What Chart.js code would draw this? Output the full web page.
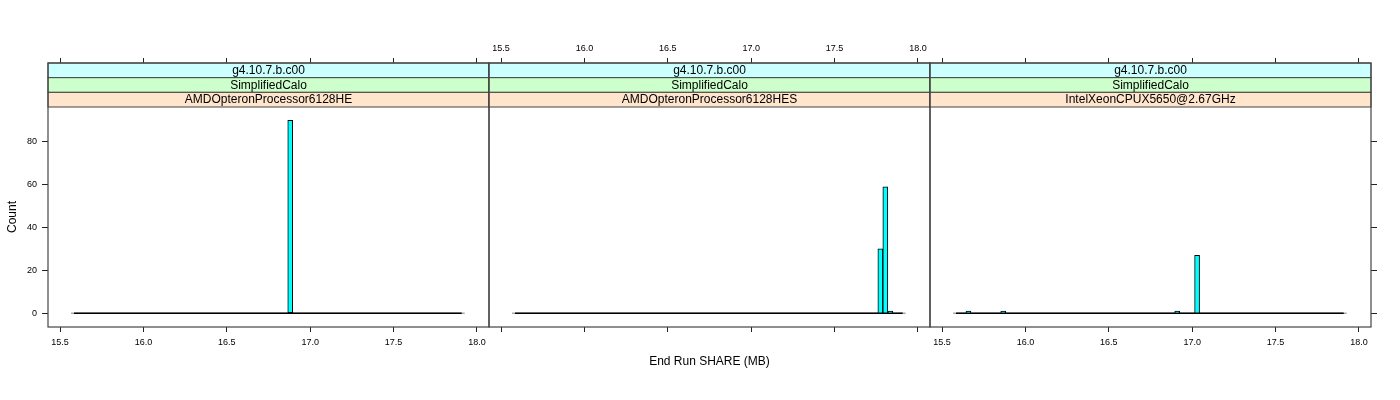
<!DOCTYPE html>
<html><head><meta charset="utf-8">
<script src="https://cdn.jsdelivr.net/npm/chart.js@4.4.1/dist/chart.umd.min.js"></script>
<style>
html,body{margin:0;padding:0;background:#fff;}
#wrap{position:relative;width:1400px;height:400px;}
#wrap canvas{position:absolute;left:0;top:0;}
</style></head><body>
<div id="wrap">
<canvas id="c0" width="1400" height="400"></canvas>
<canvas id="c1" width="1400" height="400"></canvas>
<canvas id="c2" width="1400" height="400"></canvas>
</div>
<script>
// ---------------- data ----------------
const stripVersion = ['g4.10.7.b.c00', 'g4.10.7.b.c00', 'g4.10.7.b.c00'];
const stripTest = ['SimplifiedCalo', 'SimplifiedCalo', 'SimplifiedCalo'];
const stripCpu = ['AMDOpteronProcessor6128HE', 'AMDOpteronProcessor6128HES', 'IntelXeonCPUX5650@2.67GHz'];
const breakStart = 15.584;
const binWidth = 0.0298;
const binTotal = 78;
const panel1Bins = [43];
const panel1Counts = [90];
const panel2Bins = [73, 74, 75];
const panel2Counts = [30, 59, 1];
const panel3Bins = [2, 9, 44, 48];
const panel3Counts = [1, 1, 1, 27];
const xTickValues = [15.5, 16.0, 16.5, 17.0, 17.5, 18.0];
const xTickLabels = ['15.5', '16.0', '16.5', '17.0', '17.5', '18.0'];
const yTickValues = [0, 20, 40, 60, 80];
const yTickLabels = ['0', '20', '40', '60', '80'];
const xTitle = 'End Run SHARE (MB)';
const yTitle = 'Count';

// ---------------- layout ----------------
const FONT = "'Liberation Sans', Arial, Helvetica, sans-serif";
const W = 1400, H = 400;
const panelLeft = [48, 489, 930];
const panelWidth = 441;
const areaTop = 63, areaBottom = 327;
const stripH = 44 / 3;
const X_MIN = 15.428, X_MAX = 18.072;
const Y_MIN = -6.4, Y_MAX = 116.7;
const stripColors = ['#CCFFFF', '#CCFFCC', '#FFE5CC'];
const frameColor = '#444';

Chart.defaults.font.family = FONT;
Chart.defaults.font.size = 9;
Chart.defaults.color = '#000';

function xAxis(position, showLabels, height) {
  return {
    type: 'linear', position, min: X_MIN, max: X_MAX, offset: false,
    afterBuildTicks: s => { s.ticks = xTickValues.map(v => ({value: v})); },
    afterFit: s => { s.height = height; },
    grid: {display: true, drawOnChartArea: false, drawTicks: true, tickLength: 5, tickColor: '#222', tickWidth: 1, offset: false},
    border: {display: false},
    ticks: {display: showLabels, autoSkip: false, maxRotation: 0, minRotation: 0,
      padding: position === 'top' ? 4 : 5, color: '#000', font: {size: 9, family: FONT},
      callback: (v, idx) => xTickLabels[idx]}
  };
}
function yAxis(position, display, showLabels, width) {
  return {
    type: 'linear', position, display, min: Y_MIN, max: Y_MAX,
    afterBuildTicks: s => { s.ticks = yTickValues.map(v => ({value: v})); },
    afterFit: s => { s.width = display ? width : 0; },
    grid: {display: true, drawOnChartArea: false, drawTicks: true, tickLength: 6, tickColor: '#222', tickWidth: 1, offset: false},
    border: {display: false},
    ticks: {display: showLabels, autoSkip: false, padding: 5, color: '#000', font: {size: 9, family: FONT},
      callback: (v, idx) => yTickLabels[idx]}
  };
}

function decor(i) {
  return {
    id: 'decor' + i,
    afterDraw(chart) {
      const {ctx, chartArea: a} = chart;
      const texts = [stripVersion[i], stripTest[i], stripCpu[i]];
      ctx.save();
      for (let k = 0; k < 3; k++) {
        const y0 = a.top + k * stripH;
        ctx.fillStyle = stripColors[k];
        ctx.fillRect(a.left, y0, a.right - a.left, stripH);
        ctx.strokeStyle = frameColor; ctx.lineWidth = 1;
        ctx.strokeRect(a.left, y0, a.right - a.left, stripH);
        ctx.fillStyle = '#000';
        ctx.font = '12px ' + FONT;
        ctx.textAlign = 'center'; ctx.textBaseline = 'middle';
        ctx.fillText(texts[k], (a.left + a.right) / 2, y0 + stripH / 2 + 0.5);
      }
      ctx.strokeStyle = frameColor; ctx.lineWidth = 1.2;
      ctx.strokeRect(a.left, a.top, a.right - a.left, a.bottom - a.top);
      if (i === 0) {
        ctx.fillStyle = '#000';
        ctx.font = '12px ' + FONT;
        ctx.textAlign = 'center'; ctx.textBaseline = 'alphabetic';
        ctx.fillText(xTitle, (panelLeft[0] + panelLeft[2] + panelWidth) / 2, 365);
        ctx.save();
        ctx.translate(15.7, (areaTop + 3 * stripH + areaBottom) / 2);
        ctx.rotate(-Math.PI / 2);
        ctx.fillText(yTitle, 0, 0);
        ctx.restore();
      }
      ctx.restore();
    }
  };
}

function makeChart(i, bins, counts) {
  const countsFull = Array(binTotal).fill(0);
  bins.forEach((b, k) => { countsFull[b] = counts[k]; });
  const barData = countsFull.map((c, k) => ({x: breakStart + (k + 0.5) * binWidth, y: c}));
  const breakEnd = breakStart + binTotal * binWidth;
  const showLeft = i === 0, showRight = i === 2;
  const xTopH = 25, xBotH = 30, yLW = 40, yRW = 15;
  const padding = {
    top: areaTop - xTopH,
    bottom: H - areaBottom - xBotH,
    left: panelLeft[i] - (showLeft ? yLW : 0),
    right: W - (panelLeft[i] + panelWidth) - (showRight ? yRW : 0)
  };
  return new Chart(document.getElementById('c' + i), {
    type: 'bar',
    data: {
      datasets: [
        {type: 'bar', data: barData, backgroundColor: '#00FFFF', borderColor: '#000', borderWidth: 1,
         borderSkipped: false, categoryPercentage: 1, barPercentage: 1, order: 1, xAxisID: 'x', yAxisID: 'y'},
        {type: 'line', data: [{x: breakStart, y: 0}, {x: breakEnd, y: 0}], borderColor: '#000', borderWidth: 1.5,
         pointRadius: 0, order: 2, xAxisID: 'x', yAxisID: 'y'},
        {type: 'line', data: [{x: breakStart - binWidth * 0.6, y: 0}, {x: breakEnd + binWidth * 0.6, y: 0}], borderColor: '#aaa', borderWidth: 1.5,
         pointRadius: 0, order: 3, xAxisID: 'x', yAxisID: 'y'}
      ]
    },
    options: {
      responsive: false, animation: false, devicePixelRatio: 1,
      layout: {padding},
      plugins: {legend: {display: false}, tooltip: {enabled: false}},
      scales: {
        x: xAxis('bottom', i !== 1, xBotH),
        xTop: xAxis('top', i === 1, xTopH),
        y: yAxis('left', showLeft, showLeft, yLW),
        yRight: yAxis('right', showRight, false, yRW)
      }
    },
    plugins: [decor(i)]
  });
}

makeChart(0, panel1Bins, panel1Counts);
makeChart(1, panel2Bins, panel2Counts);
makeChart(2, panel3Bins, panel3Counts);
</script>
</body></html>
